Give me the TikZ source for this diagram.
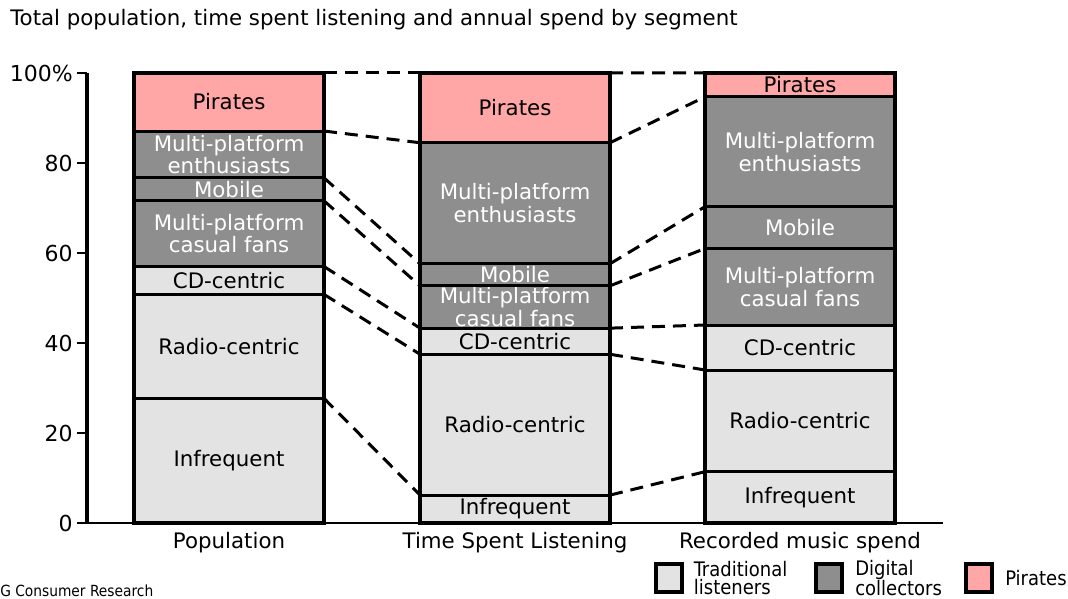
\documentclass[tikz,border=0pt]{standalone}
\usepackage{fontspec}
\setmainfont{DejaVu Sans}
\newfontfamily\narrowfont{DejaVu Sans Condensed}
\usetikzlibrary{positioning}
\definecolor{tradgray}{HTML}{E3E3E3}
\definecolor{digigray}{HTML}{8E8E8E}
\definecolor{piratepink}{HTML}{FFA6A6}
\tikzset{
  segbox/.style={draw=black, line width=2.25pt, inner sep=0pt, outer sep=0pt,
    minimum width=142.5pt, anchor=south west, align=center,
    font=\fontsize{16}{17}\selectfont},
  link/.style={line width=2.25pt, dash pattern=on 9.75pt off 6pt},
  barframe/.style={line width=3pt},
  catlabel/.style={font=\fontsize{16}{17}\selectfont, inner sep=0pt},
  keybox/.style={draw=black, line width=3pt, minimum width=19pt, minimum height=21pt, inner sep=0pt},
  keytext/.style={font=\narrowfont\fontsize{15}{13.5}\selectfont, align=left, inner sep=0pt}
}
\begin{document}
\begin{tikzpicture}[x=0.75pt,y=-0.75pt]
\useasboundingbox (0,0) rectangle (1068,599);
\pgfmathsetmacro\zero{523}
\pgfmathsetmacro\unit{4.5}
\pgfmathsetmacro\popx{134}
\pgfmathsetmacro\tslx{420}
\pgfmathsetmacro\rmsx{705}
\node[anchor=west, inner sep=0pt, font=\fontsize{16}{18}\selectfont] (title) at (10,20) {Total population, time spent listening and annual spend by segment};
% axes
\draw[line width=1.5pt] (87,\zero) -- (943,\zero);
\draw[line width=3pt] (87,73) -- (87,\zero);
\foreach \v/\t in {0/0,20/20,40/40,60/60,80/80,100/100\%} {
  \draw[line width=1.5pt] (77,{\zero-\unit*\v}) -- (87,{\zero-\unit*\v});
  \node[anchor=east, inner sep=0pt, font=\fontsize{16.5}{18}\selectfont] (tick\v) at (73,{\zero-\unit*\v}) {\t};
}
% Population
\foreach \lo/\hi/\fc/\tc/\s/\txt in {0/27.7/tradgray/black/inf/Infrequent,
    27.7/50.8/tradgray/black/rad/Radio-centric, 50.8/57.0/tradgray/black/cd/CD-centric,
    57.0/71.6/digigray/white/mpc/{Multi-platform\\casual fans}, 71.6/76.7/digigray/white/mob/Mobile,
    76.7/87.1/digigray/white/mpe/{Multi-platform\\enthusiasts}, 87.1/100/piratepink/black/pir/Pirates}
  \node[segbox, fill=\fc, text=\tc, minimum height={(\hi-\lo)*3.375pt}] (pop-\s) at (\popx,{\zero-\unit*\lo}) {\txt};
% Time spent listening
\foreach \lo/\hi/\fc/\tc/\s/\txt in {0/6.2/tradgray/black/inf/Infrequent,
    6.2/37.5/tradgray/black/rad/Radio-centric, 37.5/43.3/tradgray/black/cd/CD-centric,
    43.3/52.7/digigray/white/mpc/{Multi-platform\\casual fans}, 52.7/57.6/digigray/white/mob/Mobile,
    57.6/84.5/digigray/white/mpe/{Multi-platform\\enthusiasts}, 84.5/100/piratepink/black/pir/Pirates}
  \node[segbox, fill=\fc, text=\tc, minimum height={(\hi-\lo)*3.375pt}] (tsl-\s) at (\tslx,{\zero-\unit*\lo}) {\txt};
% Recorded music spend
\foreach \lo/\hi/\fc/\tc/\s/\txt in {0/11.4/tradgray/black/inf/Infrequent,
    11.4/34.0/tradgray/black/rad/Radio-centric, 34.0/44.0/tradgray/black/cd/CD-centric,
    44.0/61.0/digigray/white/mpc/{Multi-platform\\casual fans}, 61.0/70.3/digigray/white/mob/Mobile,
    70.3/94.7/digigray/white/mpe/{Multi-platform\\enthusiasts}, 94.7/100/piratepink/black/pir/Pirates}
  \node[segbox, fill=\fc, text=\tc, minimum height={(\hi-\lo)*3.375pt}] (rms-\s) at (\rmsx,{\zero-\unit*\lo}) {\txt};
\foreach \b in {pop,tsl,rms} \draw[barframe] (\b-inf.south west) rectangle (\b-pir.north east);
% links between segments
\foreach \s in {inf,rad,cd,mpc,mob,mpe,pir} {
  \draw[link] (pop-\s.north east) -- (tsl-\s.north west);
  \draw[link] (tsl-\s.north east) -- (rms-\s.north west);
}
\node[catlabel, below=7pt of pop-inf] (pop-cat) {Population};
\node[catlabel, below=7pt of tsl-inf] (tsl-cat) {Time Spent Listening};
\node[catlabel, below=7pt of rms-inf] (rms-cat) {Recorded music spend};
% legend
\node[keybox, fill=tradgray] (key-trad) at (669,578) {};
\node[keytext, right=7.5pt of key-trad] (lab-trad) {Traditional\\listeners};
\node[keybox, fill=digigray] (key-digi) at (829,578) {};
\node[keytext, right=8.5pt of key-digi] (lab-digi) {Digital\\collectors};
\node[keybox, fill=piratepink] (key-pir) at (979,578) {};
\node[keytext, right=8.5pt of key-pir] (lab-pir) {Pirates};
\node[anchor=west, inner sep=0pt, font=\narrowfont\fontsize{11.5}{13}\selectfont] (source) at (0,591) {G Consumer Research};
\end{tikzpicture}
\end{document}
